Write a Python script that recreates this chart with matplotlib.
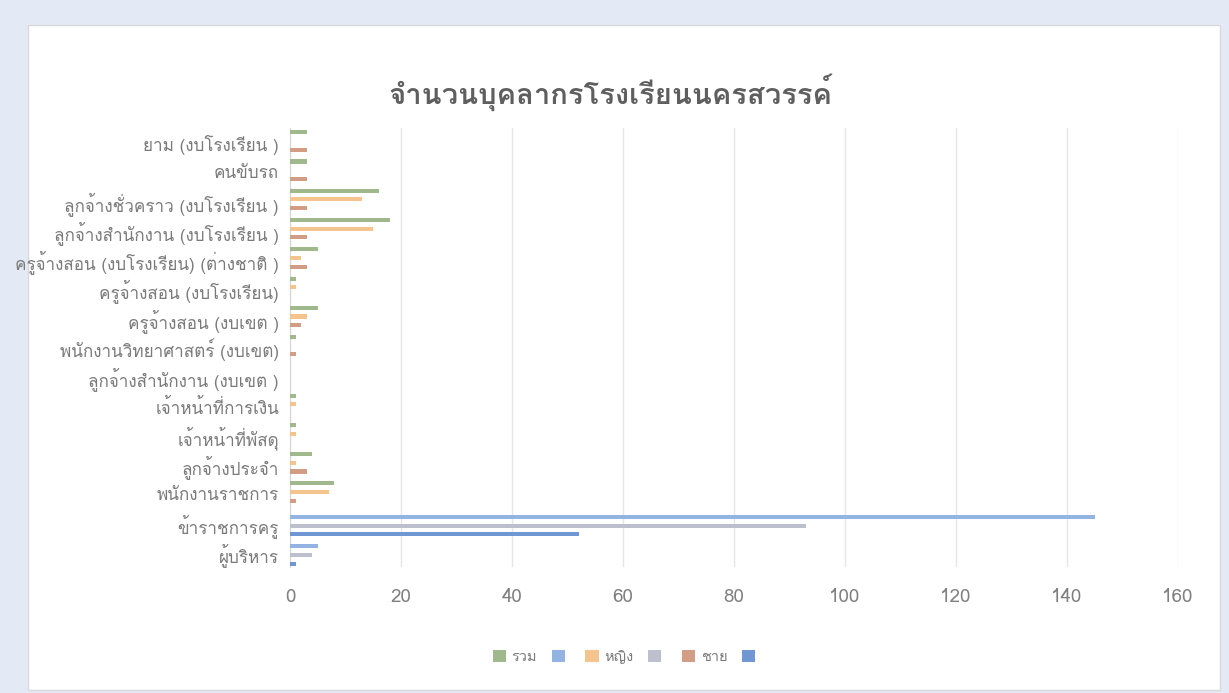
import matplotlib
matplotlib.use("Agg")
import matplotlib.pyplot as plt
from matplotlib import font_manager
from matplotlib.patches import Patch, Rectangle
import numpy as np
from fontTools.ttLib import TTFont

# === Data (top row first) ===

categories = [
    "ยาม (งบโรงเรียน )",
    "คนขับรถ",
    "ลูกจ้างชั่วคราว (งบโรงเรียน )",
    "ลูกจ้างสำนักงาน (งบโรงเรียน )",
    "ครูจ้างสอน (งบโรงเรียน) (ต่างชาติ )",
    "ครูจ้างสอน (งบโรงเรียน)",
    "ครูจ้างสอน (งบเขต )",
    "พนักงานวิทยาศาสตร์ (งบเขต)",
    "ลูกจ้างสำนักงาน (งบเขต )",
    "เจ้าหน้าที่การเงิน",
    "เจ้าหน้าที่พัสดุ",
    "ลูกจ้างประจำ",
    "พนักงานราชการ",
    "ข้าราชการครู",
    "ผู้บริหาร",
]

total_vals   = [3, 3, 16, 18, 5, 1, 5, 1, 0, 1, 1, 4, 8, 0, 0]
blank1_vals  = [0, 0, 0, 0, 0, 0, 0, 0, 0, 0, 0, 0, 0, 145, 5]
female_vals  = [0, 0, 13, 15, 2, 1, 3, 0, 0, 1, 1, 1, 7, 0, 0]
blank2_vals  = [0, 0, 0, 0, 0, 0, 0, 0, 0, 0, 0, 0, 0, 93, 4]
male_vals    = [3, 3, 3, 3, 3, 0, 2, 1, 0, 0, 0, 3, 1, 0, 0]
blank3_vals  = [0, 0, 0, 0, 0, 0, 0, 0, 0, 0, 0, 0, 0, 52, 1]

series_names = ["รวม", "", "หญิง", "", "ชาย", ""]
series_vals = [total_vals, blank1_vals, female_vals, blank2_vals, male_vals, blank3_vals]
series_colors = ["#9fb98c", "#93b3e2", "#f4c38e", "#bcbfcc", "#d29d84", "#7196d4"]

title = "จำนวนบุคลากรโรงเรียนนครสวรรค์"

# === Font: look for something that can draw Thai ===

thai_family = None
for f in font_manager.fontManager.ttflist:
    try:
        cmap = TTFont(f.fname, fontNumber=0, lazy=True).getBestCmap()
    except Exception:
        continue
    if cmap and 0x0E01 in cmap:
        thai_family = f.name
        break

families = ([thai_family] if thai_family else []) + ["DejaVu Sans"]
plt.rcParams["font.family"] = families

# === Plot ===

fig = plt.figure(figsize=(12.29, 6.93), dpi=100)
fig.patch.set_facecolor("#e3eaf5")
fig.add_artist(Rectangle((28 / 1229, 3 / 693), (1220 - 28) / 1229, (668 - 3) / 693,
                         transform=fig.transFigure, facecolor="white",
                         edgecolor="#d9d9d9", linewidth=1.0, zorder=0))

ax = fig.add_axes([290 / 1229, 1 - 567 / 693, (1178 - 290) / 1229, (567 - 128) / 693])
ax.set_facecolor("none")

n = len(categories)
ypos = np.arange(n)[::-1]
slot = 0.148
offsets = [2.4, 1.4, 0.4, -0.6, -1.6, -2.6]

for vals, off, col in zip(series_vals, offsets, series_colors):
    ax.barh(ypos + off * slot, vals, height=slot * 0.95, color=col, zorder=3)

ax.set_xlim(0, 160)
ax.set_ylim(-0.5, n - 0.5)
ax.set_xticks(np.arange(0, 161, 20))
ax.set_yticks(ypos)
ax.set_yticklabels(categories, fontsize=12.3, color="#7a7a7a")
ax.tick_params(axis="x", labelsize=13.5, colors="#7f7f7f", length=0, pad=15)
ax.tick_params(axis="y", length=0, pad=8)
ax.grid(axis="x", color="#e6e6e6", linewidth=1.0, zorder=0)
for s in ["top", "right", "bottom"]:
    ax.spines[s].set_visible(False)
ax.spines["left"].set_color("#d5d5d5")

fig.text(0.497, 1 - 92 / 693, title, ha="center", va="center",
         fontsize=21, fontweight="bold", color="#5f5f5f")

handles = [Patch(facecolor=c) for c in series_colors]
fig.legend(handles, series_names, loc="center", ncol=6,
           bbox_to_anchor=(0.51, 1 - 657 / 693), frameon=False,
           fontsize=10.5, labelcolor="#7a7a7a", handlelength=0.9, handleheight=0.9,
           columnspacing=1.0, handletextpad=0.4)

fig.savefig("out.png", dpi=100, facecolor=fig.get_facecolor())
